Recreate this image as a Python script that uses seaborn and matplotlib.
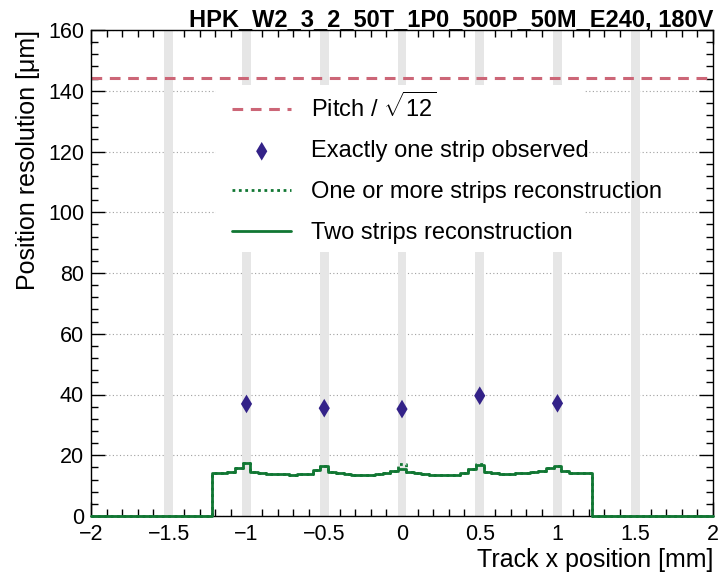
import numpy as np
import pandas as pd
import matplotlib
matplotlib.use("Agg")
import matplotlib.pyplot as plt
import seaborn as sns
from matplotlib.ticker import MultipleLocator
from matplotlib.patches import Rectangle

# ---------------- data ----------------
title = "HPK_W2_3_2_50T_1P0_500P_50M_E240, 180V"
pitch_um = 500.0
strip_positions = [-1.5, -1.0, -0.5, 0.0, 0.5, 1.0, 1.5]   # grey strip bands [mm]

one_strip_x = [-1.0, -0.5, 0.0, 0.5, 1.0]
one_strip_res = [36.9, 35.5, 35.2, 39.6, 37.1]

hist_lo, hist_hi, bin_w = -1.225, 1.225, 0.05            # populated histogram range [mm]
two_strips_res = [14.0, 14.3, 14.5, 15.7, 17.3, 14.5, 14.1, 13.9, 13.8, 13.7,
                  13.6, 13.7, 13.9, 15.2, 16.5, 14.6, 14.1, 13.8, 13.6, 13.5,
                  13.6, 13.8, 14.1, 14.8, 15.4, 14.6, 14.0, 13.8, 13.6, 13.4,
                  13.4, 13.5, 14.1, 15.4, 16.8, 14.6, 14.0, 13.9, 13.9, 14.0,
                  14.2, 14.4, 14.7, 15.8, 16.5, 14.8, 14.3, 14.2, 14.0]
one_or_more_res = [14.0, 14.3, 14.5, 15.7, 17.3, 14.5, 14.1, 13.9, 13.8, 13.7,
                   13.6, 13.7, 13.9, 15.2, 16.5, 14.6, 14.1, 13.8, 13.6, 13.5,
                   13.6, 13.8, 14.1, 14.8, 17.1, 14.6, 14.0, 13.8, 13.6, 13.4,
                   13.4, 13.5, 14.1, 15.4, 17.0, 14.6, 14.0, 13.9, 13.9, 14.0,
                   14.2, 14.4, 14.7, 15.8, 16.5, 14.8, 14.3, 14.2, 14.0]

x_range = (-2.0, 2.0)
y_range = (0, 160)

label_pitch = r"Pitch / $\sqrt{12}$"
label_one = "Exactly one strip observed"
label_more = "One or more strips reconstruction"
label_two = "Two strips reconstruction"

# ---------------- style ----------------
sns.set_theme(style="ticks")
plt.rcParams["font.family"] = ["Liberation Sans", "DejaVu Sans"]
plt.rcParams["mathtext.fontset"] = "custom"
plt.rcParams["mathtext.rm"] = "Liberation Sans"
plt.rcParams["mathtext.it"] = "Liberation Sans:italic"
plt.rcParams["axes.unicode_minus"] = True
for k in ["text.color", "axes.labelcolor", "xtick.color", "ytick.color", "axes.edgecolor"]:
    plt.rcParams[k] = "black"

RED = "#CC6677"
BLUE = "#332288"
GREEN = "#117733"
BAND = "#E6E6E6"

fig = plt.figure(figsize=(7.21, 5.73), dpi=100)
ax = fig.add_axes([91 / 721, 1 - 516 / 573, (713 - 91) / 721, (516 - 30) / 573])

# strip bands
for s in strip_positions:
    ax.axvspan(s - 0.028, s + 0.028, color=BAND, lw=0, zorder=0.8)

# horizontal grid
ax.set_axisbelow(True)
ax.yaxis.grid(True, which="major", color="#A0A0A0", linestyle=(0, (1, 2.2)), linewidth=0.8)
ax.xaxis.grid(False)

# legend background box (white, no border)
ax.add_patch(Rectangle((0.201, 0.543), 0.593, 0.344, transform=ax.transAxes,
                       facecolor="white", edgecolor="none", zorder=2))

# pitch / sqrt(12)
ax.axhline(pitch_um / np.sqrt(12), color=RED, lw=2.2, ls=(0, (3.5, 2.5)),
           zorder=3, label=label_pitch)

# exactly one strip
df_one = pd.DataFrame({"x": one_strip_x, "res": one_strip_res})
sns.scatterplot(data=df_one, x="x", y="res", marker="d", s=90, color=BLUE,
                edgecolor="none", zorder=4, label=label_one, ax=ax)

# step histograms
edges = np.linspace(hist_lo, hist_hi, len(two_strips_res) + 1)
step_x = np.concatenate([[x_range[0]], edges, [x_range[1]]])
step_more = np.concatenate([[0.0], one_or_more_res, [0.0, 0.0]])
step_two = np.concatenate([[0.0], two_strips_res, [0.0, 0.0]])

df_more = pd.DataFrame({"x": step_x, "res": step_more})
df_two = pd.DataFrame({"x": step_x, "res": step_two})
sns.lineplot(data=df_more, x="x", y="res", estimator=None, sort=False,
             drawstyle="steps-post", color=GREEN, lw=2.0, linestyle=(0, (1, 1.3)),
             zorder=5, label=label_more, ax=ax, clip_on=False)
sns.lineplot(data=df_two, x="x", y="res", estimator=None, sort=False,
             drawstyle="steps-post", color=GREEN, lw=2.0, linestyle="-",
             zorder=6, label=label_two, ax=ax, clip_on=False)

# axes
ax.set_xlim(*x_range)
ax.set_ylim(*y_range)
ax.xaxis.set_major_locator(MultipleLocator(0.5))
ax.xaxis.set_minor_locator(MultipleLocator(0.1))
ax.yaxis.set_major_locator(MultipleLocator(20))
ax.yaxis.set_minor_locator(MultipleLocator(4))
ax.tick_params(which="both", direction="in", top=True, right=True,
               color="black", width=1.0, labelsize=15.5)
ax.tick_params(axis="x", which="both", pad=6)
ax.tick_params(axis="y", which="both", pad=5)
ax.tick_params(which="major", length=10)
ax.tick_params(which="minor", length=5)
ax.set_xticks([-2, -1.5, -1, -0.5, 0, 0.5, 1, 1.5, 2])
ax.set_xticklabels(["\u22122", "\u22121.5", "\u22121", "\u22120.5", "0", "0.5", "1", "1.5", "2"])
for sp in ax.spines.values():
    sp.set_linewidth(1.0)
    sp.set_color("black")
    sp.set_zorder(4.5)

ax.set_xlabel("Track x position [mm]", fontsize=18, loc="right", labelpad=2)
ax.set_ylabel("Position resolution [\u03bcm]", fontsize=18, loc="top", labelpad=6)

leg = ax.legend(loc="center left", bbox_to_anchor=(0.227, 0.716), frameon=False,
                fontsize=17, handlelength=2.5, handletextpad=0.85, labelspacing=0.79,
                borderpad=0, borderaxespad=0)
leg.set_zorder(7)

fig.text(713 / 721, 1 - 26 / 573, title, ha="right", va="baseline",
         fontsize=17, fontweight="bold")

fig.savefig("out.png", dpi=100)
